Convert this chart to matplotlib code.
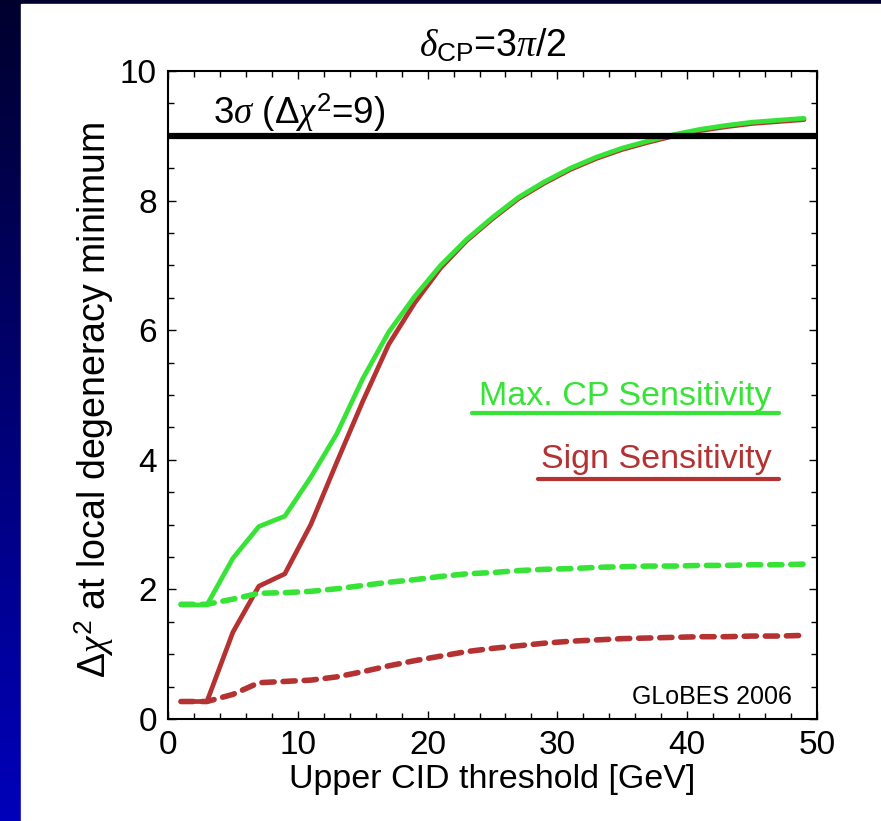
"""
Delta chi^2 at the local degeneracy minimum vs. upper CID threshold
(GLoBES 2006 style slide plot).
"""

import numpy as np
import matplotlib
matplotlib.use("Agg")
import matplotlib.pyplot as plt
from matplotlib.ticker import MultipleLocator

plt.rcParams["font.family"] = ["Liberation Sans", "DejaVu Sans"]
plt.rcParams["mathtext.fontset"] = "custom"
plt.rcParams["mathtext.rm"] = "Liberation Sans"
plt.rcParams["mathtext.it"] = "Liberation Serif:italic"
plt.rcParams["mathtext.sf"] = "Liberation Sans"

# ───── data ─────
threshold = [1, 3, 5, 7, 9, 11, 13, 15, 17, 19, 21, 23, 25,
             27, 29, 31, 33, 35, 37, 39, 41, 43, 45, 47, 49]

cp_solid = [1.76, 1.76, 2.48, 2.97, 3.13, 3.73, 4.40, 5.25, 5.97, 6.52, 7.00, 7.40, 7.74,
            8.05, 8.29, 8.50, 8.67, 8.81, 8.92, 9.02, 9.10, 9.16, 9.21, 9.24, 9.27]
sign_solid = [0.27, 0.27, 1.34, 2.05, 2.24, 3.00, 3.96, 4.90, 5.78, 6.42, 6.96, 7.38, 7.72,
              8.03, 8.27, 8.48, 8.65, 8.79, 8.90, 9.00, 9.08, 9.14, 9.19, 9.22, 9.25]
cp_dashed = [1.77, 1.77, 1.85, 1.94, 1.95, 1.97, 2.01, 2.06, 2.11, 2.15, 2.20, 2.24, 2.26,
             2.29, 2.31, 2.32, 2.34, 2.35, 2.36, 2.36, 2.37, 2.37, 2.38, 2.38, 2.39]
sign_dashed = [0.27, 0.27, 0.38, 0.56, 0.58, 0.60, 0.65, 0.73, 0.82, 0.90, 0.97, 1.04, 1.09,
               1.13, 1.17, 1.20, 1.22, 1.24, 1.25, 1.26, 1.27, 1.27, 1.28, 1.28, 1.29]

sigma3 = 9

GREEN = "#36e336"
RED = "#b43232"

W, H = 881, 821
fig = plt.figure(figsize=(W / 100, H / 100), dpi=100)

# ── slide background: blue gradient with white panel ──
bg = fig.add_axes([0, 0, 1, 1], zorder=-10)
grad = np.linspace(0, 1, 256).reshape(-1, 1)
bg.imshow(np.dstack([np.zeros_like(grad), np.zeros_like(grad), 0.18 + 0.55 * grad]),
          aspect="auto", extent=[0, 1, 0, 1], origin="upper")
bg.add_patch(plt.Rectangle((21 / W, 0), 1, (H - 4) / H, color="white"))
bg.set_xlim(0, 1)
bg.set_ylim(0, 1)
bg.axis("off")

ax = fig.add_axes([168 / W, (H - 719) / H, (817 - 168) / W, (719 - 71) / H])
ax.set_facecolor("none")

# ── curves ──
dash = (2.2, 1.6)
ax.plot(threshold, sign_dashed, color=RED, lw=4.0, ls=(0, dash), dash_capstyle="round")
ax.plot(threshold, sign_solid, color=RED, lw=3.4, solid_capstyle="round")
ax.plot(threshold, cp_dashed, color=GREEN, lw=4.0, ls=(0, dash), dash_capstyle="round")
ax.plot(threshold, cp_solid, color=GREEN, lw=3.4, solid_capstyle="round")

ax.axhline(sigma3, color="black", lw=4.5)
ax.text(3.5, 9.18, r"3$\sigma$ ($\Delta\chi^2$=9)", fontsize=26.5, ha="left", va="baseline")

# ── legend-like labels ──
ax.text(46.5, 4.85, "Max. CP Sensitivity", color=GREEN, fontsize=24.5, ha="right", va="baseline")
ax.plot([23.4, 47.1], [4.72, 4.72], color=GREEN, lw=3, solid_capstyle="round")
ax.text(46.5, 3.87, "Sign Sensitivity", color=RED, fontsize=24.5, ha="right", va="baseline")
ax.plot([28.5, 47.1], [3.70, 3.70], color=RED, lw=3, solid_capstyle="round")

ax.text(48.1, 0.23, "GLoBES 2006", fontsize=18, ha="right", va="baseline")

# ── axes ──
ax.set_xlim(0, 50)
ax.set_ylim(0, 10)
ax.xaxis.set_major_locator(MultipleLocator(10))
ax.xaxis.set_minor_locator(MultipleLocator(2))
ax.yaxis.set_major_locator(MultipleLocator(2))
ax.yaxis.set_minor_locator(MultipleLocator(0.5))
ax.tick_params(which="both", direction="in", top=True, right=True, width=1, labelsize=24)
ax.tick_params(which="major", length=6, pad=8)
ax.tick_params(which="minor", length=4)
for sp in ax.spines.values():
    sp.set_linewidth(1.5)

ax.set_xlabel("Upper CID threshold [GeV]", fontsize=24.5)
ax.xaxis.set_label_coords(0.5, -0.07)
ax.set_ylabel(r"$\Delta\chi^2$ at local degeneracy minimum", fontsize=27)
ax.yaxis.set_label_coords(-0.08, 0.492)

ax.text(0.5, 1.022, r"$\delta_{\mathrm{CP}}$=3$\pi$/2", transform=ax.transAxes,
        fontsize=27, ha="center", va="baseline")

fig.savefig("out.png", dpi=100)
